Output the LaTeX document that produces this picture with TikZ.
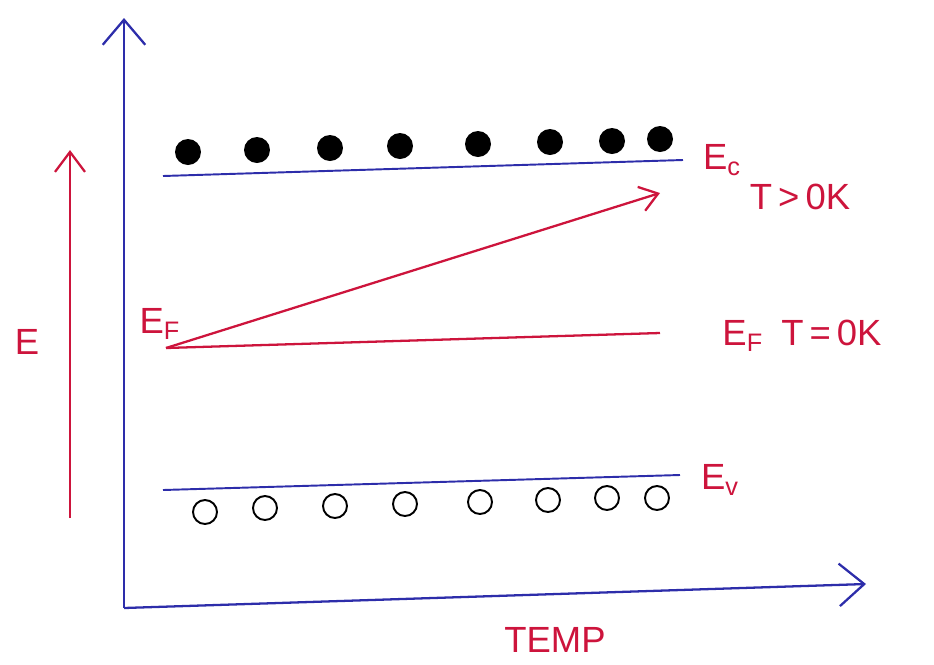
\documentclass[tikz,border=0pt]{standalone}
\usepackage{fontspec}
\setmainfont{Liberation Sans}
\usetikzlibrary{arrows.meta,positioning}
\definecolor{penblue}{RGB}{45,45,170}
\definecolor{penred}{RGB}{205,20,60}

\begin{document}
\begin{tikzpicture}[x=0.02cm,y=-0.02cm,
    every node/.style={font=\huge,text=penred},
    axis/.style={draw=penblue,line width=1.3pt,-{Straight Barb[length=0.5cm,width=0.85cm]}},
    level/.style={draw=penblue,line width=1.1pt},
    fermi/.style={draw=penred,line width=1.3pt},
    elec/.style={circle,fill=black,minimum size=0.52cm,inner sep=0pt},
    hole/.style={circle,draw=black,line width=1.1pt,minimum size=0.48cm,inner sep=0pt}]
  \useasboundingbox (0,0) rectangle (934,664);
  % axes
  \coordinate (orig) at (124,608);
  \coordinate (ytop) at (124,18);
  \coordinate (xend) at (866,584);
  \draw[axis] (orig) -- (ytop);
  \draw[axis] (orig) -- (xend);
  \node (temp) at (555,640) {TEMP};
  % energy arrow
  \coordinate (elow) at (70,518);
  \coordinate (ehigh) at (70,150);
  \draw[fermi,-{Straight Barb[length=0.4cm,width=0.6cm]}] (elow) -- (ehigh);
  \node (elab) at (27,342) {E};
  % conduction band
  \coordinate (ecL) at (163,176);
  \coordinate (ecR) at (683,160);
  \draw[level] (ecL) -- (ecR);
  \foreach \x/\y [count=\i] in {188/152,257/150,330/148,400/146,478/144,550/142,612/141,660/139}
    \node[elec] (e\i) at (\x,\y) {};
  \node (eclab) at (722,160) {E\textsubscript{c}};
  \node (tgt) at (800,197) {T\,>\,0K};
  % valence band
  \coordinate (evL) at (163,490);
  \coordinate (evR) at (680,475);
  \draw[level] (evL) -- (evR);
  \foreach \x/\y [count=\i] in {205/512,265/508,335/506,405/504,480/502,548/500,607/498,657/498}
    \node[hole] (h\i) at (\x,\y) {};
  \node (evlab) at (720,480) {E\textsubscript{v}};
  % fermi level
  \coordinate (ef0) at (166,348);
  \coordinate (efR) at (660,333);
  \coordinate (efT) at (660,193);
  \draw[fermi] (ef0) -- (efR);
  \draw[fermi,-{Straight Barb[length=0.35cm,width=0.5cm]}] (ef0) -- (efT);
  \node (eflab) at (160,324) {E\textsubscript{F}};
  \node (efzero) at (802,336) {E\textsubscript{F}\enspace T\,=\,0K};
\end{tikzpicture}
\end{document}
